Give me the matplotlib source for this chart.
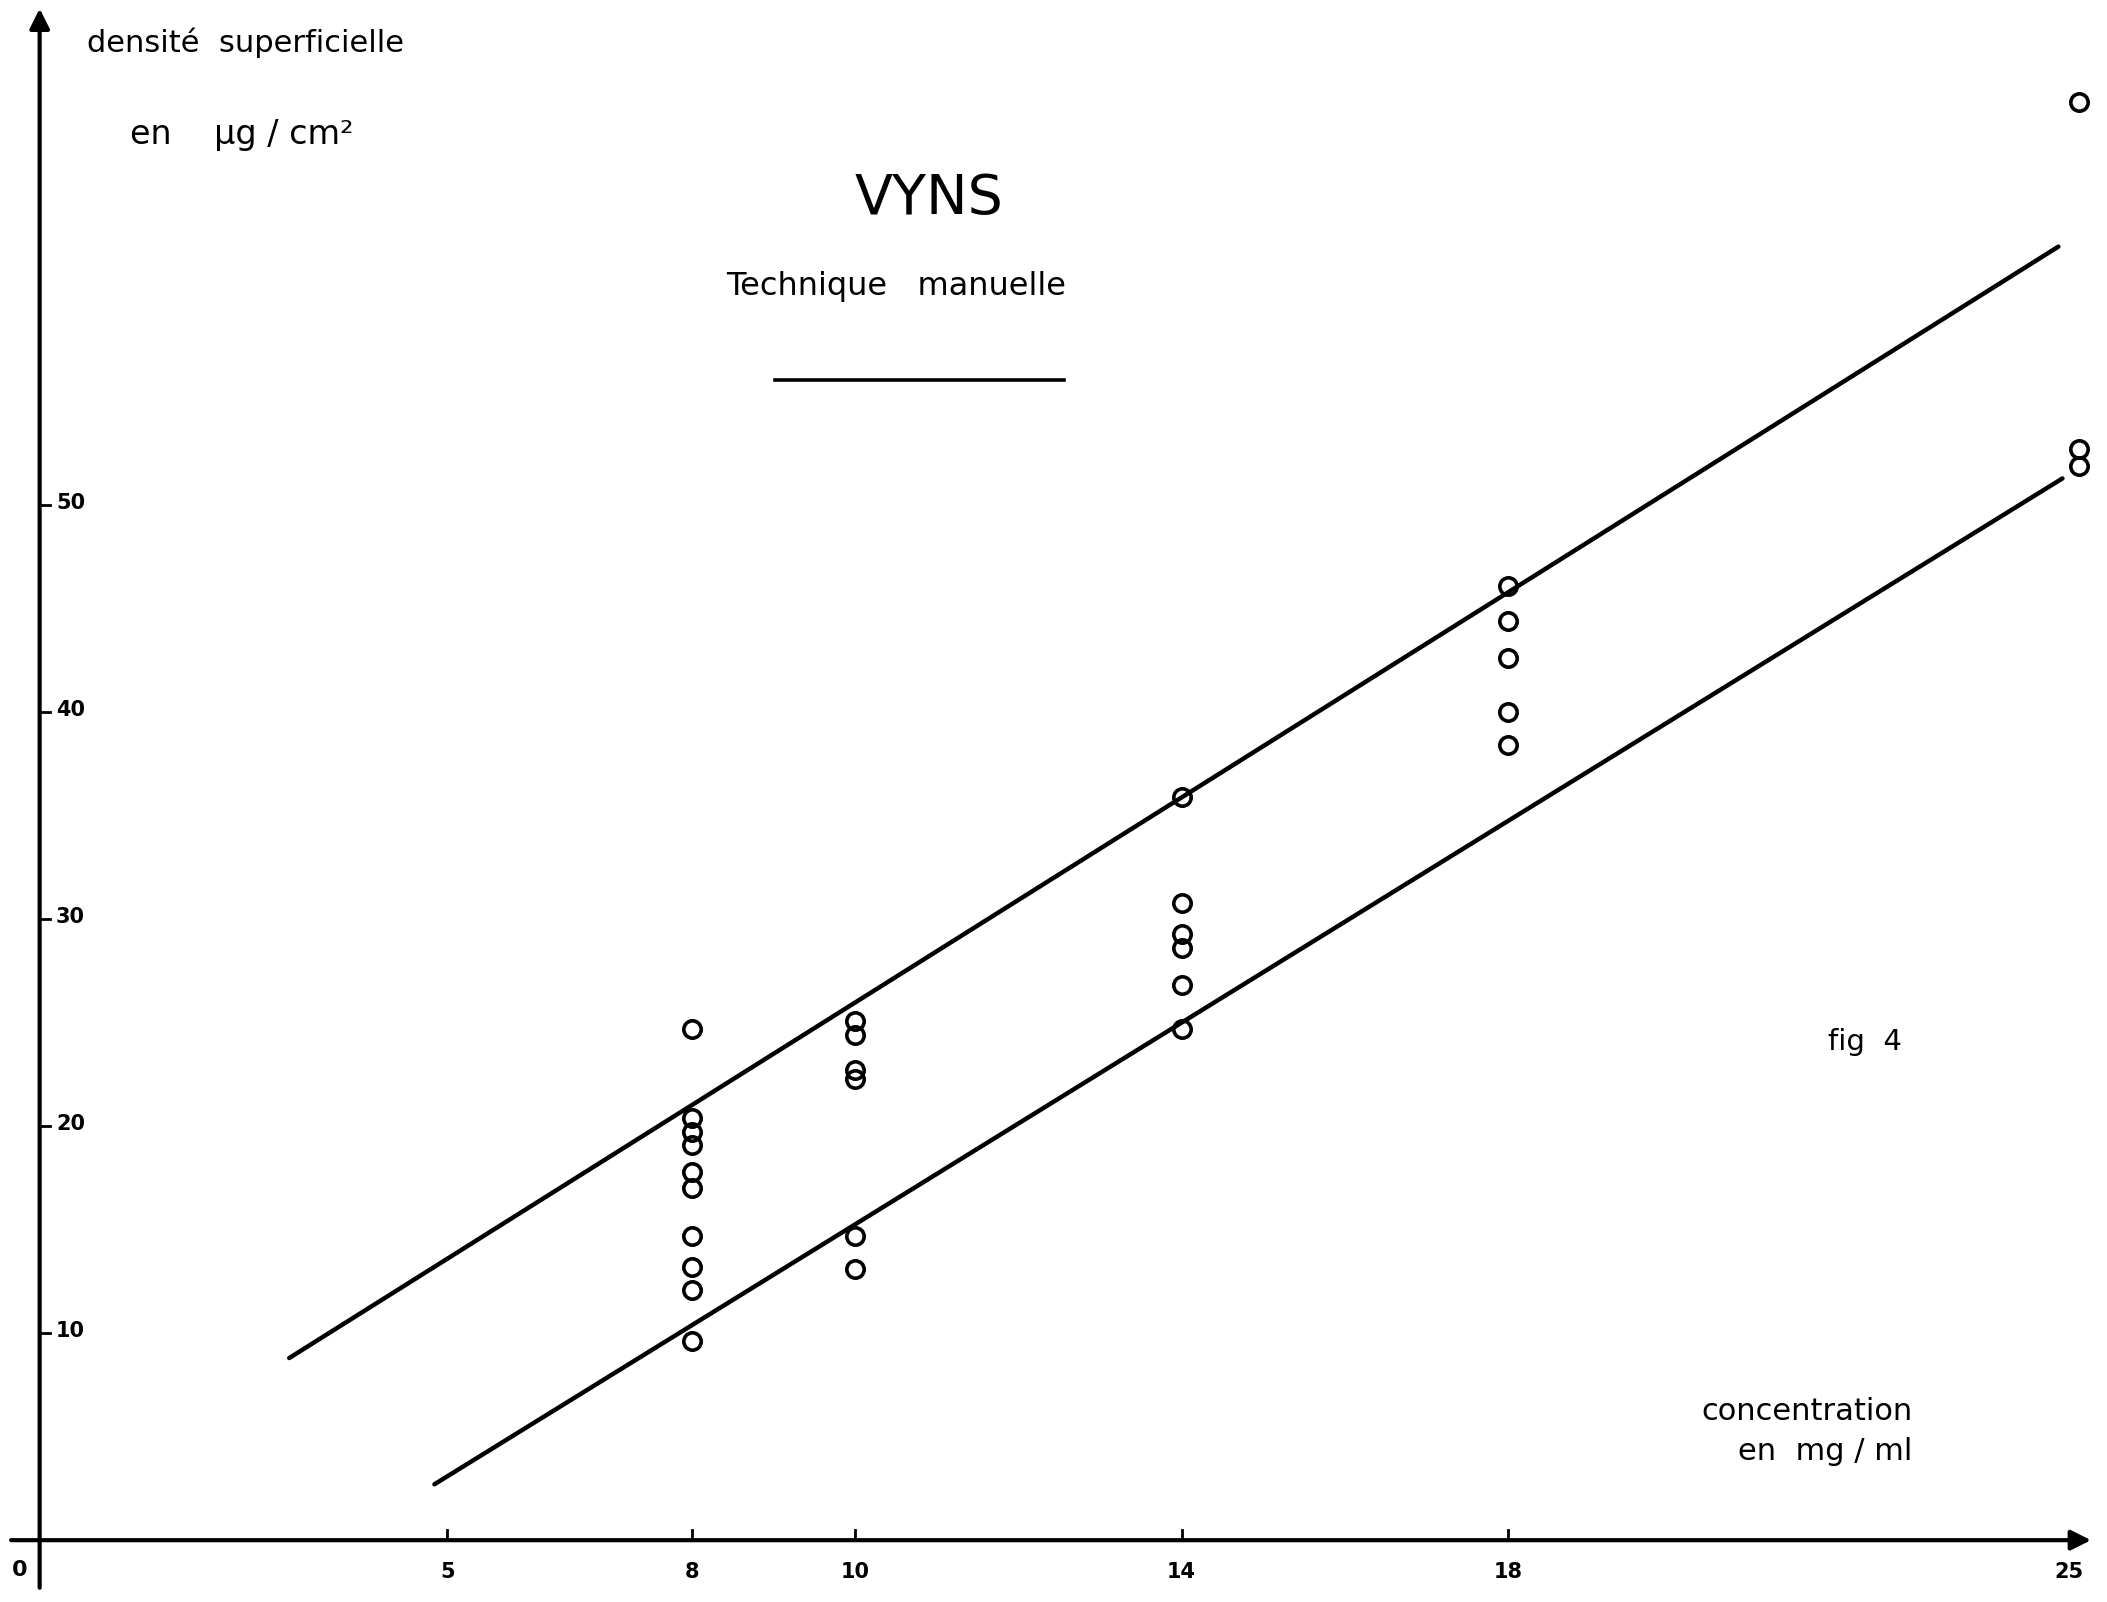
import matplotlib
matplotlib.use("Agg")
import matplotlib.pyplot as plt
from matplotlib.lines import Line2D

# ---------------- data ----------------
conc_8 = [8] * 10
dens_8 = [24.7, 20.4, 19.7, 19.1, 17.8, 17.0, 14.7, 13.2, 12.1, 9.6]
conc_10 = [10] * 6
dens_10 = [25.1, 24.4, 22.7, 22.3, 14.7, 13.1]
conc_14 = [14] * 6
dens_14 = [35.9, 30.8, 29.3, 28.6, 26.8, 24.7]
conc_18 = [18] * 5
dens_18 = [46.1, 44.4, 42.6, 40.0, 38.4]
conc_25 = [25] * 3
dens_25 = [69.5, 52.7, 51.9]

upper_x = [3.06, 24.75]
upper_y = [8.8, 62.5]
lower_x = [4.84, 24.80]
lower_y = [2.7, 51.3]

xticks = [5, 8, 10, 14, 18, 25]
xtick_labels = ["5", "8", "10", "14", "18", "25"]
yticks = [10, 20, 30, 40, 50]
ytick_labels = ["10", "20", "30", "40", "50"]

# ---------------- figure ----------------
W, H = 1568.0, 1192.0  # reference grid used for placement
fig = plt.figure(figsize=(21.07, 16.02), dpi=100)
fig.patch.set_facecolor("white")
ax = fig.add_axes([0, 0, 1, 1])
ax.axis("off")

x0px, xunit = 29.5, 60.7
y0px, yunit = 1146.0, 15.4
ax.set_xlim(-x0px / xunit, (W - x0px) / xunit)
ax.set_ylim((y0px - H) / yunit, y0px / yunit)

def fx(px):
    return px / W

def fy(py):
    return 1 - py / H

# axes with arrows
ax.annotate("", xy=(25.15, 0), xytext=(-0.35, 0),
            arrowprops=dict(arrowstyle="-|>", lw=3.0, color="black",
                            mutation_scale=30, shrinkA=0, shrinkB=0))
ax.annotate("", xy=(0, 74.0), xytext=(0, -2.3),
            arrowprops=dict(arrowstyle="-|>", lw=3.0, color="black",
                            mutation_scale=30, shrinkA=0, shrinkB=0))

# tick marks
for t in xticks[:-1]:
    ax.plot([t, t], [0, 0.5], color="black", lw=2.0)
for t in yticks:
    ax.plot([0, 0.13], [t, t], color="black", lw=2.0)

# tick labels
for t, lab in zip(xticks, xtick_labels):
    ax.text(t - (0.12 if t == 25 else 0), -1.55, lab, ha="center", va="center",
            fontsize=15, fontweight="bold", family="DejaVu Sans")
ax.text(-0.24, -1.45, "0", ha="center", va="center", fontsize=16,
        fontweight="bold", family="DejaVu Sans")
for t, lab in zip(yticks, ytick_labels):
    ax.text(0.2, t + 0.1, lab, ha="left", va="center", fontsize=15,
            fontweight="bold", family="DejaVu Sans")

# lines
ax.plot(upper_x, upper_y, color="black", lw=3.2, solid_capstyle="round")
ax.plot(lower_x, lower_y, color="black", lw=3.2, solid_capstyle="round")

# points
mk = dict(marker="o", linestyle="none", markersize=12.5, markerfacecolor="none",
          markeredgecolor="black", markeredgewidth=2.6)
for xs, ys in [(conc_8, dens_8), (conc_10, dens_10), (conc_14, dens_14),
               (conc_18, dens_18), (conc_25, dens_25)]:
    ax.plot(xs, ys, **mk)

# texts
ax.text(fx(65), fy(32), "densité  superficielle", transform=fig.transFigure,
        ha="left", va="center", fontsize=22, family="DejaVu Sans")
ax.text(fx(97), fy(100), "en    µg / cm²", transform=fig.transFigure,
        ha="left", va="center", fontsize=24, family="DejaVu Sans")
ax.text(fx(691), fy(148), "VYNS", transform=fig.transFigure,
        ha="center", va="center", fontsize=40, family="DejaVu Sans")
ax.text(fx(667), fy(213), "Technique   manuelle", transform=fig.transFigure,
        ha="center", va="center", fontsize=23, family="DejaVu Sans")
fig.add_artist(Line2D([fx(577), fx(792)], [fy(283), fy(283)],
                      transform=fig.transFigure, color="black", lw=2.6))
ax.text(fx(1388), fy(775), "fig  4", transform=fig.transFigure,
        ha="center", va="center", fontsize=21, family="DejaVu Sans")
ax.text(fx(1423), fy(1050), "concentration", transform=fig.transFigure,
        ha="right", va="center", fontsize=22, family="DejaVu Sans")
ax.text(fx(1423), fy(1080), "en  mg / ml", transform=fig.transFigure,
        ha="right", va="center", fontsize=22, family="DejaVu Sans")

fig.savefig("out.png", dpi=100, facecolor="white")
